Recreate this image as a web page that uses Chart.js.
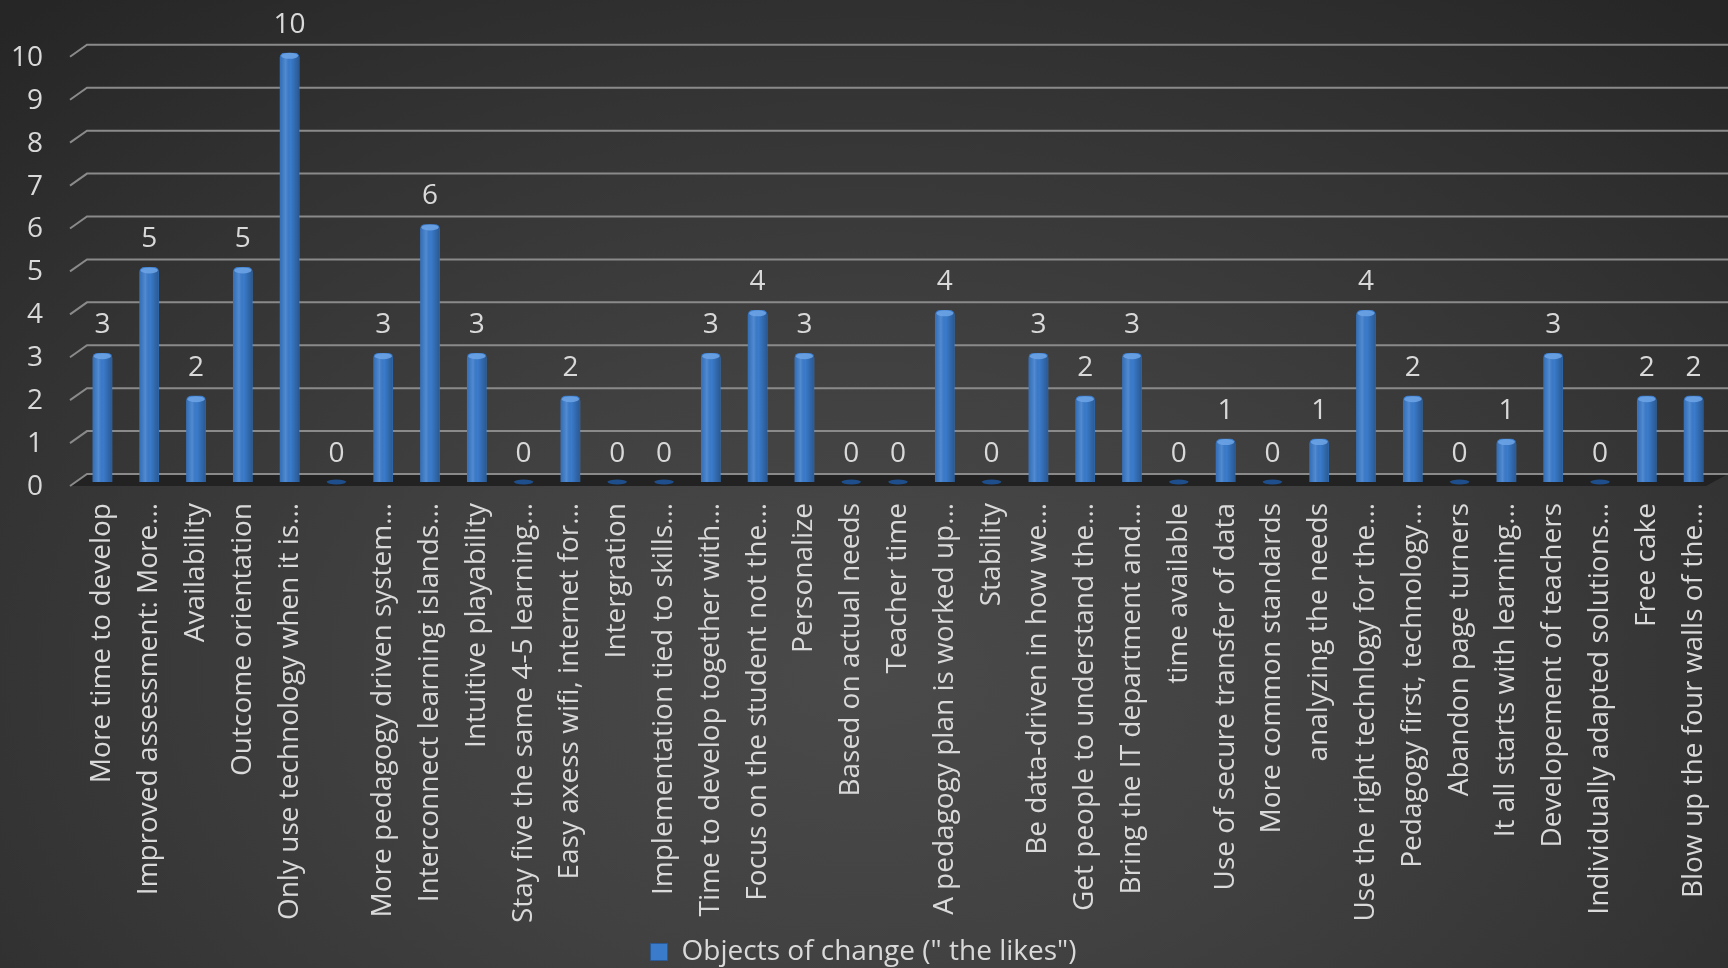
<!DOCTYPE html>
<html>
<head>
<meta charset="utf-8">
<script src="https://cdn.jsdelivr.net/npm/chart.js@4.4.0/dist/chart.umd.min.js"></script>
<style>
  html, body { margin: 0; padding: 0; }
  body {
    width: 1728px; height: 968px; overflow: hidden;
    background: radial-gradient(ellipse 75% 90% at 50% 70%, #4a4a4a 0%, #414141 35%, #333333 70%, #262626 100%);
  }
  #wrap { position: relative; width: 1728px; height: 968px; }
</style>
</head>
<body>
<div id="wrap"><canvas id="c"></canvas></div>
<script>
const categories = [
  "More time to develop",
  "Improved assessment: More\u2026",
  "Availability",
  "Outcome orientation",
  "Only use technology when it is\u2026",
  "",
  "More pedagogy driven system\u2026",
  "Interconnect learning islands\u2026",
  "Intuitive playability",
  "Stay five the same 4-5 learning\u2026",
  "Easy axess wifi, internet for\u2026",
  "Intergration",
  "Implementation tied to skills\u2026",
  "Time to develop together with\u2026",
  "Focus on the student not the\u2026",
  "Personalize",
  "Based on actual needs",
  "Teacher time",
  "A pedagogy plan is worked up\u2026",
  "Stability",
  "Be data-driven in how we\u2026",
  "Get people to understand the\u2026",
  "Bring the IT department and\u2026",
  "time available",
  "Use of secure transfer of data",
  "More common standards",
  "analyzing the needs",
  "Use the right technlogy for the\u2026",
  "Pedagogy first, technology\u2026",
  "Abandon page turners",
  "It all starts with learning\u2026",
  "Developement of teachers",
  "Individually adapted solutions\u2026",
  "Free cake",
  "Blow up the four walls of the\u2026"
];
const likes = [3,5,2,5,10,0,3,6,3,0,2,0,0,3,4,3,0,0,4,0,3,2,3,0,1,0,1,4,2,0,1,3,0,2,2];
const seriesName = 'Objects of change (" the likes")';
const yMin = 0, yMax = 10, yStep = 1;

const FONT = "'Open Sans', sans-serif";
const TEXT = '#d9d9d9';
const BLUE = '#3a7bcb';

const deco = {
  id: 'deco',
  beforeDatasetsDraw(chart) {
    const { ctx, chartArea: a, scales: { y } } = chart;
    const y0 = y.getPixelForValue(0);
    ctx.save();
    ctx.fillStyle = '#222222';
    ctx.beginPath();
    ctx.moveTo(a.left + 8, y0 - 8);
    ctx.lineTo(chart.width, y0 - 8);
    ctx.lineTo(chart.width - 22, y0 + 4);
    ctx.lineTo(a.left - 9, y0 + 4);
    ctx.closePath();
    ctx.fill();
    ctx.strokeStyle = '#8a8a8a';
    ctx.lineWidth = 2;
    y.ticks.forEach(t => {
      const py = y.getPixelForValue(t.value);
      ctx.beginPath();
      ctx.moveTo(a.left - 9, py + 4);
      ctx.lineTo(a.left + 8, py - 8);
      ctx.lineTo(chart.width, py - 8);
      ctx.stroke();
    });
    ctx.restore();
  },
  afterDatasetsDraw(chart) {
    const { ctx, scales: { y } } = chart;
    const y0 = y.getPixelForValue(0);
    const meta = chart.getDatasetMeta(0);
    const data = chart.data.datasets[0].data;
    ctx.save();
    meta.data.forEach((el, i) => {
      const v = data[i];
      const w = el.width;
      const l = el.x - w / 2;
      if (v > 0) {
        const g = ctx.createLinearGradient(l, 0, l + w, 0);
        g.addColorStop(0, 'rgba(0,0,0,0.10)');
        g.addColorStop(0.3, 'rgba(255,255,255,0.12)');
        g.addColorStop(0.55, 'rgba(0,0,0,0.0)');
        g.addColorStop(1, 'rgba(0,0,0,0.28)');
        ctx.fillStyle = g;
        ctx.fillRect(l, el.y + 3, w, el.base - el.y - 3);
        ctx.fillStyle = 'rgba(110,165,230,0.85)';
        ctx.beginPath();
        ctx.ellipse(el.x, el.y + 3, w / 2 - 1, 3, 0, 0, Math.PI * 2);
        ctx.fill();
      } else {
        ctx.fillStyle = '#1e4f8c';
        ctx.beginPath();
        ctx.ellipse(el.x, y0, w / 2, 2.5, 0, 0, Math.PI * 2);
        ctx.fill();
      }
      ctx.fillStyle = TEXT;
      ctx.font = "28px " + FONT;
      ctx.textAlign = 'center';
      ctx.textBaseline = 'middle';
      ctx.fillText(String(v), el.x, el.y - 28);
    });
    ctx.restore();
  }
};

new Chart(document.getElementById('c'), {
  type: 'bar',
  data: {
    labels: categories,
    datasets: [{
      label: seriesName,
      data: likes,
      backgroundColor: BLUE,
      borderWidth: 0,
      borderRadius: { topLeft: 5, topRight: 5 },
      borderSkipped: 'start',
      barThickness: 19
    }]
  },
  options: {
    responsive: true,
    maintainAspectRatio: false,
    animation: false,
    layout: { padding: { top: 42, left: 10, right: 11, bottom: -8 } },
    plugins: {
      tooltip: { enabled: false },
      legend: {
        position: 'bottom',
        labels: {
          color: TEXT,
          font: { family: FONT, size: 28 },
          boxWidth: 17,
          boxHeight: 17,
          padding: 2,
          generateLabels(chart) {
            return [{
              text: seriesName,
              fillStyle: '#3a7bcb',
              strokeStyle: '#2a5a98',
              lineWidth: 1,
              fontColor: TEXT,
              datasetIndex: 0
            }];
          }
        }
      }
    },
    scales: {
      x: {
        grid: { display: false, drawTicks: false },
        border: { display: false },
        ticks: {
          color: TEXT,
          font: { family: FONT, size: 28 },
          autoSkip: false,
          maxRotation: 90,
          minRotation: 90,
          padding: 21
        },
        afterFit(s) { s.height = 454; s.paddingLeft = 0; s.paddingRight = 0; }
      },
      y: {
        min: yMin,
        max: yMax,
        grid: { display: false, drawTicks: false },
        border: { display: false },
        ticks: {
          stepSize: yStep,
          color: TEXT,
          font: { family: FONT, size: 28 },
          padding: 36,
          labelOffset: 5
        },
        afterFit(s) { s.width = 69; }
      }
    }
  },
  plugins: [deco]
});
</script>
</body>
</html>
